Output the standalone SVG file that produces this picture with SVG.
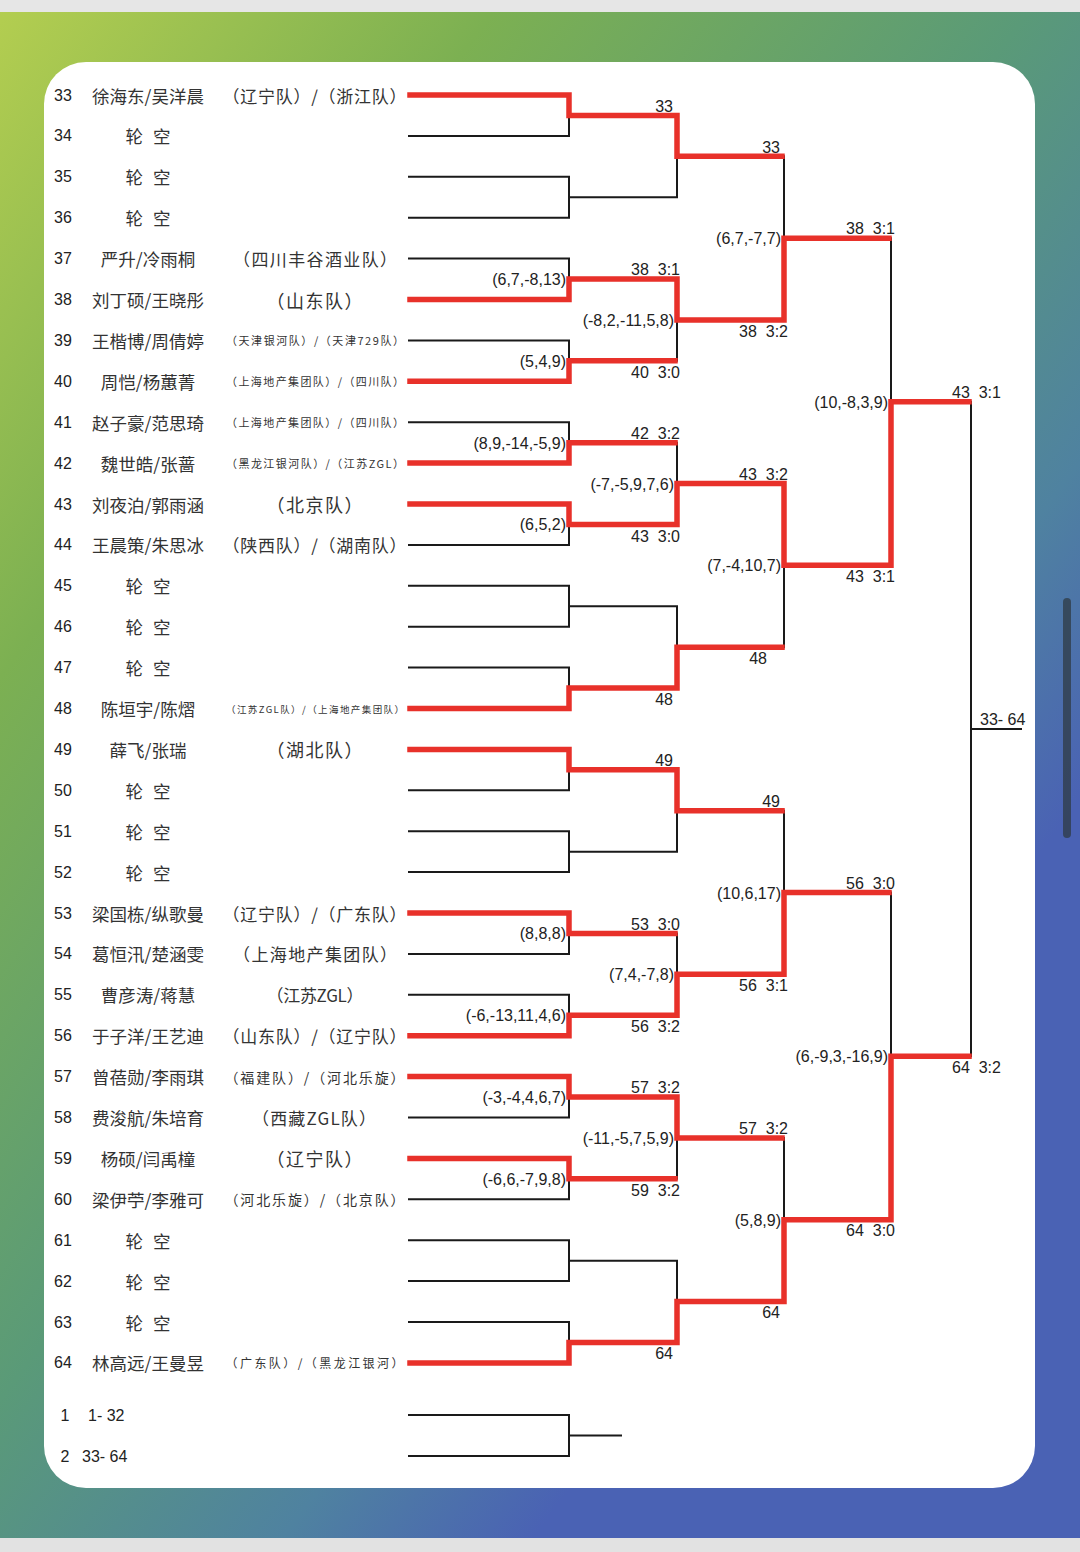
<svg xmlns="http://www.w3.org/2000/svg" width="1080" height="1552" viewBox="0 0 1080 1552">
<style>
.num{font-family:"Liberation Sans",Arial,sans-serif;font-size:16px;fill:#222;text-anchor:middle;dominant-baseline:central}
.nm{font-family:"Noto Sans CJK SC","Noto Sans CJK JP",sans-serif;font-size:17.5px;fill:#333;text-anchor:middle;dominant-baseline:central}
.tm{font-family:"Noto Sans CJK SC","Noto Sans CJK JP",sans-serif;font-size:17px;fill:#333;text-anchor:middle;dominant-baseline:central}
.s18{font-size:18px}
.sm{font-size:11px}
.s95{font-size:9.5px}
.s12{font-size:12px}
.s14{font-size:14px}
.lb{font-family:"Liberation Sans",Arial,sans-serif;font-size:16px;fill:#222}
.e{text-anchor:end}
.blk{fill:none;stroke:#1a1a1a;stroke-width:2}
.red{fill:none;stroke:#e8312a;stroke-width:5.5;stroke-linejoin:miter;stroke-linecap:square}
</style>
<defs>
<linearGradient id="bg" gradientUnits="userSpaceOnUse" x1="0" y1="0" x2="1080" y2="800">
<stop offset="0" stop-color="#b4ce50"/>
<stop offset="0.3" stop-color="#7cb052"/>
<stop offset="0.62" stop-color="#5a9a78"/>
<stop offset="0.85" stop-color="#4f82a0"/>
<stop offset="1" stop-color="#4a62b4"/>
</linearGradient>
</defs>
<rect x="0" y="0" width="1080" height="1552" fill="url(#bg)"/>
<rect x="0" y="0" width="1080" height="12" fill="#e6e6e6"/>
<rect x="0" y="1538" width="1080" height="14" fill="#e2e2e2"/>
<rect x="1063" y="598" width="8" height="240" rx="4" fill="#2f3b44" opacity="0.75"/>
<rect x="44" y="62" width="991" height="1426" rx="42" fill="#ffffff"/>

<g id="connectors">
<path class="blk" d="M408 95H569V135.9H408M408 176.8H569V217.7H408M408 258.6H569V299.5H408M408 340.4H569V381.3H408M408 422.2H569V463.1H408M408 504H569V544.9H408M408 585.8H569V626.7H408M408 667.6H569V708.5H408M408 749.4H569V790.3H408M408 831.2H569V872.1H408M408 913H569V953.9H408M408 994.8H569V1035.7H408M408 1076.6H569V1117.5H408M408 1158.4H569V1199.3H408M408 1240.2H569V1281.1H408M408 1322H569V1362.9H408"/>
<path class="blk" d="M569 115.45H677V197.25H569M569 279.05H677V360.85H569M569 442.65H677V524.45H569M569 606.25H677V688.05H569M569 769.85H677V851.65H569M569 933.45H677V1015.25H569M569 1097.05H677V1178.85H569M569 1260.65H677V1342.45H569"/>
<path class="blk" d="M677 156.35H784V319.95H677M677 483.55H784V647.15H677M677 810.75H784V974.35H677M677 1137.95H784V1301.55H677"/>
<path class="blk" d="M784 238.15H891V565.35H784M784 892.55H891V1219.75H784"/>
<path class="blk" d="M891 401.75H971V1056.15H891M971 728.95H1022"/>
<path class="blk" d="M408 1415H569V1456H408M569 1435.5H622"/>
<path id="w33" class="red" d="M410 95H569V115.45H677V156.35H782"/>
<path id="w38" class="red" d="M410 299.5H569V279.05H677V319.95H784V238.15H889"/>
<path id="w40" class="red" d="M410 381.3H569V360.85H675"/>
<path id="w42" class="red" d="M410 463.1H569V442.65H675"/>
<path id="w43" class="red" d="M410 504H569V524.45H677V483.55H784V565.35H891V401.75H969"/>
<path id="w48" class="red" d="M410 708.5H569V688.05H677V647.15H782"/>
<path id="w49" class="red" d="M410 749.4H569V769.85H677V810.75H782"/>
<path id="w53" class="red" d="M410 913H569V933.45H675"/>
<path id="w56" class="red" d="M410 1035.7H569V1015.25H677V974.35H784V892.55H889"/>
<path id="w57" class="red" d="M410 1076.6H569V1097.05H677V1137.95H782"/>
<path id="w59" class="red" d="M410 1158.4H569V1178.85H675"/>
<path id="w64" class="red" d="M410 1362.9H569V1342.45H677V1301.55H784V1219.75H891V1056.15H969"/>
</g>

<g id="labels">
<text class="lb e" x="566" y="285">(6,7,-8,13)</text>
<text class="lb e" x="566" y="366.8">(5,4,9)</text>
<text class="lb e" x="566" y="448.6">(8,9,-14,-5,9)</text>
<text class="lb e" x="566" y="530.4">(6,5,2)</text>
<text class="lb e" x="566" y="939.4">(8,8,8)</text>
<text class="lb e" x="566" y="1021.2">(-6,-13,11,4,6)</text>
<text class="lb e" x="566" y="1103">(-3,-4,4,6,7)</text>
<text class="lb e" x="566" y="1184.8">(-6,6,-7,9,8)</text>
<text class="lb e" x="674" y="325.9">(-8,2,-11,5,8)</text>
<text class="lb e" x="674" y="489.5">(-7,-5,9,7,6)</text>
<text class="lb e" x="674" y="980.3">(7,4,-7,8)</text>
<text class="lb e" x="674" y="1143.9">(-11,-5,7,5,9)</text>
<text class="lb e" x="781" y="244.1">(6,7,-7,7)</text>
<text class="lb e" x="781" y="571.3">(7,-4,10,7)</text>
<text class="lb e" x="781" y="898.5">(10,6,17)</text>
<text class="lb e" x="781" y="1225.7">(5,8,9)</text>
<text class="lb e" x="888" y="407.7">(10,-8,3,9)</text>
<text class="lb e" x="888" y="1062.1">(6,-9,3,-16,9)</text>

<text class="lb e" x="673" y="111.5">33</text>
<text class="lb e" x="680" y="275" xml:space="preserve">38  3:1</text>
<text class="lb e" x="680" y="378" xml:space="preserve">40  3:0</text>
<text class="lb e" x="680" y="438.7" xml:space="preserve">42  3:2</text>
<text class="lb e" x="680" y="541.5" xml:space="preserve">43  3:0</text>
<text class="lb e" x="673" y="705">48</text>
<text class="lb e" x="673" y="765.8">49</text>
<text class="lb e" x="680" y="929.5" xml:space="preserve">53  3:0</text>
<text class="lb e" x="680" y="1032" xml:space="preserve">56  3:2</text>
<text class="lb e" x="680" y="1093" xml:space="preserve">57  3:2</text>
<text class="lb e" x="680" y="1195.5" xml:space="preserve">59  3:2</text>
<text class="lb e" x="673" y="1359">64</text>

<text class="lb e" x="780" y="152.5">33</text>
<text class="lb e" x="788" y="337" xml:space="preserve">38  3:2</text>
<text class="lb e" x="788" y="479.5" xml:space="preserve">43  3:2</text>
<text class="lb e" x="767" y="664">48</text>
<text class="lb e" x="780" y="806.8">49</text>
<text class="lb e" x="788" y="991" xml:space="preserve">56  3:1</text>
<text class="lb e" x="788" y="1134" xml:space="preserve">57  3:2</text>
<text class="lb e" x="780" y="1318">64</text>

<text class="lb e" x="895" y="234" xml:space="preserve">38  3:1</text>
<text class="lb e" x="895" y="582" xml:space="preserve">43  3:1</text>
<text class="lb e" x="895" y="888.5" xml:space="preserve">56  3:0</text>
<text class="lb e" x="895" y="1236" xml:space="preserve">64  3:0</text>

<text class="lb" x="952" y="397.7" xml:space="preserve">43  3:1</text>
<text class="lb" x="952" y="1073" xml:space="preserve">64  3:2</text>
<text class="lb" x="980" y="724.7">33- 64</text>
</g>

<g id="nodes">
<g id="p33"><text class="num" x="63" y="95">33</text><text class="nm" x="148" y="95">徐海东/吴洋晨</text><text class="tm" x="314.5" y="95" textLength="184">（辽宁队）/（浙江队）</text></g>
<g id="p34"><text class="num" x="63" y="135.9">34</text><text class="nm" x="148" y="135.9" textLength="45">轮 空</text></g>
<g id="p35"><text class="num" x="63" y="176.8">35</text><text class="nm" x="148" y="176.8" textLength="45">轮 空</text></g>
<g id="p36"><text class="num" x="63" y="217.7">36</text><text class="nm" x="148" y="217.7" textLength="45">轮 空</text></g>
<g id="p37"><text class="num" x="63" y="258.6">37</text><text class="nm" x="148" y="258.6">严升/冷雨桐</text><text class="tm" x="315" y="258.6" textLength="164">（四川丰谷酒业队）</text></g>
<g id="p38"><text class="num" x="63" y="299.5">38</text><text class="nm" x="148" y="299.5">刘丁硕/王晓彤</text><text class="tm s18" x="314.5" y="299.5" textLength="96">（山东队）</text></g>
<g id="p39"><text class="num" x="63" y="340.4">39</text><text class="nm" x="148" y="340.4">王楷博/周倩婷</text><text class="tm sm" x="315" y="340.4" textLength="178">（天津银河队）/（天津729队）</text></g>
<g id="p40"><text class="num" x="63" y="381.3">40</text><text class="nm" x="148" y="381.3">周恺/杨蕙菁</text><text class="tm sm" x="315" y="381.3" textLength="178">（上海地产集团队）/（四川队）</text></g>
<g id="p41"><text class="num" x="63" y="422.2">41</text><text class="nm" x="148" y="422.2">赵子豪/范思琦</text><text class="tm sm" x="315" y="422.2" textLength="178">（上海地产集团队）/（四川队）</text></g>
<g id="p42"><text class="num" x="63" y="463.1">42</text><text class="nm" x="148" y="463.1">魏世皓/张蔷</text><text class="tm sm" x="315" y="463.1" textLength="178">（黑龙江银河队）/（江苏ZGL）</text></g>
<g id="p43"><text class="num" x="63" y="504">43</text><text class="nm" x="148" y="504">刘夜泊/郭雨涵</text><text class="tm s18" x="314.5" y="504" textLength="96">（北京队）</text></g>
<g id="p44"><text class="num" x="63" y="544.9">44</text><text class="nm" x="148" y="544.9">王晨策/朱思冰</text><text class="tm" x="314.5" y="544.9" textLength="184">（陕西队）/（湖南队）</text></g>
<g id="p45"><text class="num" x="63" y="585.8">45</text><text class="nm" x="148" y="585.8" textLength="45">轮 空</text></g>
<g id="p46"><text class="num" x="63" y="626.7">46</text><text class="nm" x="148" y="626.7" textLength="45">轮 空</text></g>
<g id="p47"><text class="num" x="63" y="667.6">47</text><text class="nm" x="148" y="667.6" textLength="45">轮 空</text></g>
<g id="p48"><text class="num" x="63" y="708.5">48</text><text class="nm" x="148" y="708.5">陈垣宇/陈熠</text><text class="tm s95" x="315" y="708.5" textLength="178">（江苏ZGL队）/（上海地产集团队）</text></g>
<g id="p49"><text class="num" x="63" y="749.4">49</text><text class="nm" x="148" y="749.4">薛飞/张瑞</text><text class="tm s18" x="314.5" y="749.4" textLength="96">（湖北队）</text></g>
<g id="p50"><text class="num" x="63" y="790.3">50</text><text class="nm" x="148" y="790.3" textLength="45">轮 空</text></g>
<g id="p51"><text class="num" x="63" y="831.2">51</text><text class="nm" x="148" y="831.2" textLength="45">轮 空</text></g>
<g id="p52"><text class="num" x="63" y="872.1">52</text><text class="nm" x="148" y="872.1" textLength="45">轮 空</text></g>
<g id="p53"><text class="num" x="63" y="913">53</text><text class="nm" x="148" y="913">梁国栋/纵歌曼</text><text class="tm" x="314.5" y="913" textLength="184">（辽宁队）/（广东队）</text></g>
<g id="p54"><text class="num" x="63" y="953.9">54</text><text class="nm" x="148" y="953.9">葛恒汛/楚涵雯</text><text class="tm" x="315" y="953.9" textLength="164">（上海地产集团队）</text></g>
<g id="p55"><text class="num" x="63" y="994.8">55</text><text class="nm" x="148" y="994.8">曹彦涛/蒋慧</text><text class="tm" x="315" y="994.8" textLength="97">（江苏ZGL）</text></g>
<g id="p56"><text class="num" x="63" y="1035.7">56</text><text class="nm" x="148" y="1035.7">于子洋/王艺迪</text><text class="tm" x="314.5" y="1035.7" textLength="184">（山东队）/（辽宁队）</text></g>
<g id="p57"><text class="num" x="63" y="1076.6">57</text><text class="nm" x="148" y="1076.6">曾蓓勋/李雨琪</text><text class="tm s14" x="314.5" y="1076.6" textLength="180">（福建队）/（河北乐旋）</text></g>
<g id="p58"><text class="num" x="63" y="1117.5">58</text><text class="nm" x="148" y="1117.5">费浚航/朱培育</text><text class="tm" x="314" y="1117.5" textLength="124">（西藏ZGL队）</text></g>
<g id="p59"><text class="num" x="63" y="1158.4">59</text><text class="nm" x="148" y="1158.4">杨硕/闫禹橦</text><text class="tm s18" x="314.5" y="1158.4" textLength="96">（辽宁队）</text></g>
<g id="p60"><text class="num" x="63" y="1199.3">60</text><text class="nm" x="148" y="1199.3">梁伊苧/李雅可</text><text class="tm s14" x="314.5" y="1199.3" textLength="180">（河北乐旋）/（北京队）</text></g>
<g id="p61"><text class="num" x="63" y="1240.2">61</text><text class="nm" x="148" y="1240.2" textLength="45">轮 空</text></g>
<g id="p62"><text class="num" x="63" y="1281.1">62</text><text class="nm" x="148" y="1281.1" textLength="45">轮 空</text></g>
<g id="p63"><text class="num" x="63" y="1322">63</text><text class="nm" x="148" y="1322" textLength="45">轮 空</text></g>
<g id="p64"><text class="num" x="63" y="1362.9">64</text><text class="nm" x="148" y="1362.9">林高远/王曼昱</text><text class="tm s12" x="314.5" y="1362.9" textLength="178">（广东队）/（黑龙江银河）</text></g>
<g id="s1"><text class="num" x="65" y="1415">1</text><text class="num" x="88" y="1415" style="text-anchor:start">1- 32</text></g>
<g id="s2"><text class="num" x="65" y="1456">2</text><text class="num" x="82" y="1456" style="text-anchor:start">33- 64</text></g>
</g>
</svg>
